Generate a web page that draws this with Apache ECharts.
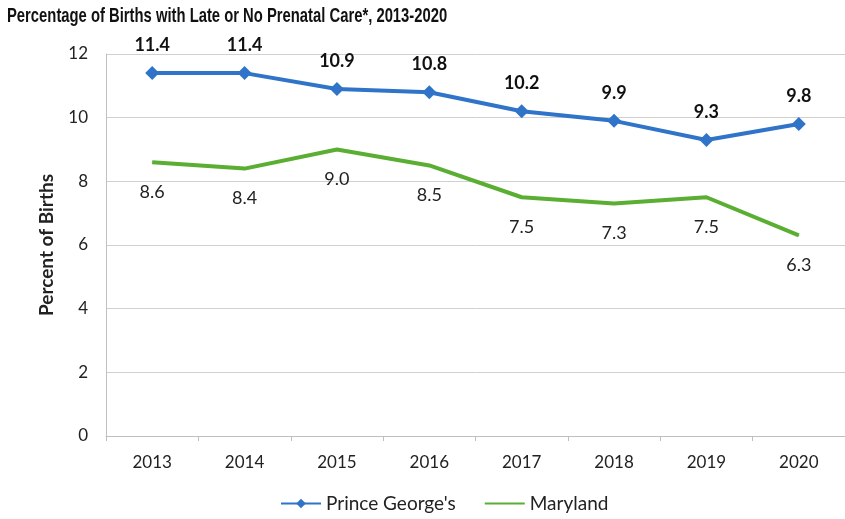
<!DOCTYPE html>
<html><head><meta charset="utf-8">
<script src="https://cdn.jsdelivr.net/npm/echarts@6/dist/echarts.min.js"></script>
<style>html,body{margin:0;padding:0;background:#fff}#c{width:845px;height:519px}</style>
</head><body><div id="c"></div>
<script>
const years = ['2013','2014','2015','2016','2017','2018','2019','2020'];
const princeGeorges = [11.4, 11.4, 10.9, 10.8, 10.2, 9.9, 9.3, 9.8];
const maryland = [8.6, 8.4, 9.0, 8.5, 7.5, 7.3, 7.5, 6.3];
const yTicks = [0, 2, 4, 6, 8, 10, 12];
const titleText = 'Percentage of Births with Late or No Prenatal Care*, 2013-2020';

const chart = echarts.init(document.getElementById('c'));
const fmt = p => p.value.toFixed(1);
chart.setOption({
  animation: false,
  graphic: [{
    type: 'text', x: 7, y: 6, scaleX: 0.705,
    style: {text: titleText, font: 'bold 21px "Liberation Sans", Arial', fill: '#111'}
  }],
  grid: {left: 106, right: -8, top: 54, bottom: 83},
  legend: {
    bottom: 1, left: 275,
    itemWidth: 40, itemHeight: 12, itemGap: 28,
    textStyle: {fontFamily: 'Lato', fontSize: 19, color: '#222'},
    data: ["Prince George's", {name: 'Maryland', itemStyle: {opacity: 0}}]
  },
  xAxis: {
    type: 'category', data: years, boundaryGap: true,
    axisLine: {lineStyle: {color: '#bfbfbf'}},
    axisTick: {show: true, lineStyle: {color: '#bfbfbf'}},
    axisLabel: {fontFamily: 'Lato', fontSize: 17, color: '#222', margin: 18}
  },
  yAxis: {
    type: 'value', min: yTicks[0], max: yTicks[yTicks.length-1], interval: 2,
    name: 'Percent of Births', nameLocation: 'middle', nameGap: 50,
    nameTextStyle: {fontFamily: 'Lato', fontWeight: 'bold', fontSize: 19, color: '#222'},
    axisLine: {show: true, lineStyle: {color: '#bfbfbf'}},
    axisTick: {show: false},
    splitLine: {lineStyle: {color: '#d0d0d0'}},
    axisLabel: {fontFamily: 'Lato', fontSize: 17, color: '#222', margin: 18}
  },
  series: [
    {
      name: "Prince George's", type: 'line', data: princeGeorges,
      symbol: 'diamond', symbolSize: 14,
      lineStyle: {color: '#2f74c8', width: 4},
      itemStyle: {color: '#2f74c8'},
      label: {show: true, position: 'top', distance: 12, formatter: fmt,
        fontFamily: 'Lato', fontWeight: 'bold', fontSize: 18, color: '#111'}
    },
    {
      name: 'Maryland', type: 'line', data: maryland,
      symbol: 'circle', symbolSize: 1,
      lineStyle: {color: '#5aae32', width: 4},
      itemStyle: {color: '#5aae32'},
      label: {show: true, position: 'bottom', distance: 20, formatter: fmt,
        fontFamily: 'Lato', fontSize: 18, color: '#222'}
    }
  ]
});
</script></body></html>
